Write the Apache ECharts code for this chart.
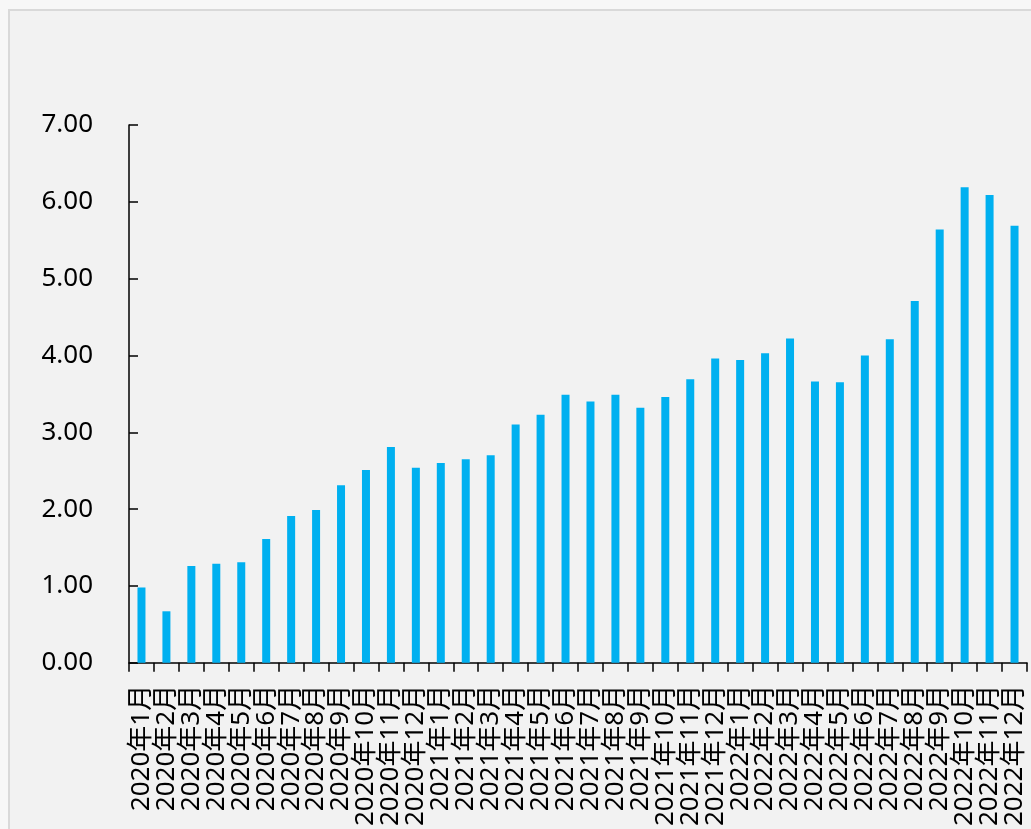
<!DOCTYPE html>
<html>
<head>
<meta charset="utf-8">
<script src="https://cdn.jsdelivr.net/npm/echarts@6/dist/echarts.min.js"></script>
<style>
    html, body { margin: 0; padding: 0; background: #f7f7f7; overflow: hidden; }
    #frame { position: absolute; left: 8px; top: 9px; width: 1100px; height: 900px;
             background: #f2f2f2; border: 2px solid #d9d9d9; }
    #chart { position: absolute; left: 0; top: 0; width: 1031px; height: 829px; }
</style>
</head>
<body>
<div id="frame"></div>
<div id="chart"></div>
<script>
var years = ['2020', '2021', '2022'];
var months = [1, 2, 3, 4, 5, 6, 7, 8, 9, 10, 11, 12];
var categories = [];
years.forEach(function (y) {
    months.forEach(function (m) {
        categories.push(y + '年' + m + '月');
    });
});

var values2020 = [0.98, 0.67, 1.26, 1.29, 1.31, 1.61, 1.91, 1.99, 2.31, 2.51, 2.81, 2.54];
var values2021 = [2.60, 2.65, 2.70, 3.10, 3.23, 3.49, 3.40, 3.49, 3.32, 3.46, 3.69, 3.96];
var values2022 = [3.94, 4.03, 4.22, 3.66, 3.65, 4.00, 4.21, 4.71, 5.64, 6.19, 6.09, 5.69];
var values = values2020.concat(values2021, values2022);

var yTicks = [0, 1, 2, 3, 4, 5, 6, 7];

var fontFamily = "'Noto Sans', 'Noto Sans CJK SC', sans-serif";

var myChart = echarts.init(document.getElementById('chart'));
var option = {
    backgroundColor: 'transparent',
    animation: false,
    grid: {
        left: 129,
        right: 4,
        top: 125,
        bottom: 165
    },
    xAxis: {
        type: 'category',
        data: categories,
        axisLine: { show: true, lineStyle: { color: '#000', width: 1.5 } },
        axisTick: { show: true, length: 9, lineStyle: { color: '#000', width: 1.5 } },
        axisLabel: {
            interval: 0,
            rotate: 90,
            margin: 22,
            color: '#000',
            fontSize: 26,
            fontFamily: fontFamily
        }
    },
    yAxis: {
        type: 'value',
        min: yTicks[0],
        max: yTicks[yTicks.length - 1],
        interval: 1,
        axisLine: { show: true, lineStyle: { color: '#000', width: 1.5 } },
        axisTick: { show: true, inside: true, length: 9, lineStyle: { color: '#000', width: 1.5 } },
        splitLine: { show: false },
        axisLabel: {
            margin: 36,
            color: '#000',
            fontSize: 26,
            fontFamily: fontFamily,
            formatter: function (v) { return v.toFixed(2); }
        }
    },
    series: [
        {
            type: 'bar',
            barWidth: 8,
            itemStyle: { color: '#00b0f0' },
            data: values
        }
    ]
};
myChart.setOption(option);
</script>
</body>
</html>
